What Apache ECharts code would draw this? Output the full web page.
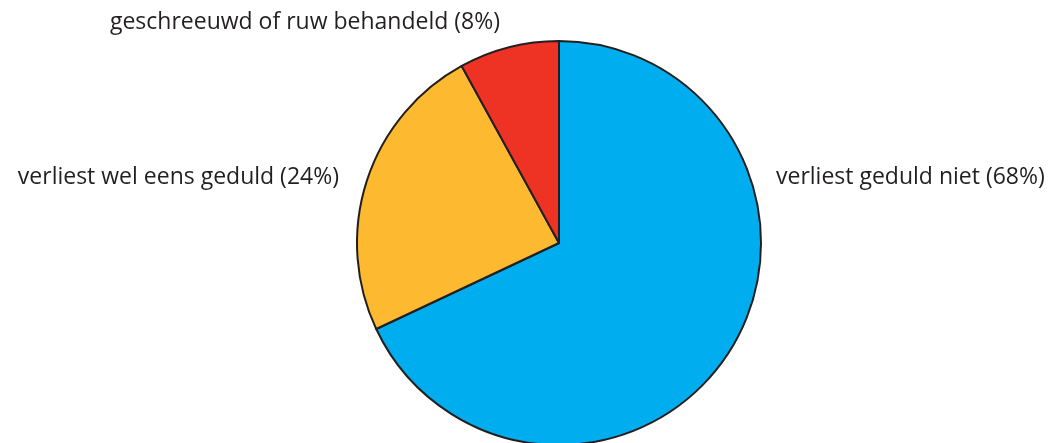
<!DOCTYPE html>
<html><head><meta charset="utf-8">
<script src="https://cdn.jsdelivr.net/npm/echarts@6/dist/echarts.min.js"></script>
<style>html,body{margin:0;padding:0;background:#fff}#c{width:1054px;height:443px}</style>
</head><body><div id="c"></div>
<script>
const categories = ['verliest geduld niet', 'verliest wel eens geduld', 'geschreeuwd of ruw behandeld'];
const values = [68, 24, 8];
const colors = ['#00ADEE', '#FDB92F', '#EE3224'];
const labelPos = [
  {x: 776, y: 177, align: 'left'},
  {x: 339, y: 177, align: 'right'},
  {x: 500, y: 22, align: 'right'}
];
const chart = echarts.init(document.getElementById('c'), null, {renderer: 'canvas'});
chart.setOption({
  animation: false,
  series: [{
    type: 'pie',
    center: [559, 243],
    radius: [0, 202],
    startAngle: 90,
    clockwise: true,
    data: categories.map((n, i) => ({name: n, value: values[i], itemStyle: {color: colors[i]}})),
    itemStyle: {borderColor: '#231F20', borderWidth: 2},
    label: {
      show: true, position: 'outside',
      formatter: p => p.name + ' (' + p.value + '%)',
      fontFamily: 'Open Sans', fontSize: 23, color: '#231F20',
      overflow: 'none', width: 500
    },
    labelLine: {show: false},
    labelLayout: p => ({x: labelPos[p.dataIndex].x, y: labelPos[p.dataIndex].y, align: labelPos[p.dataIndex].align, verticalAlign: 'middle'}),
    emphasis: {disabled: true}
  }]
});
</script></body></html>
